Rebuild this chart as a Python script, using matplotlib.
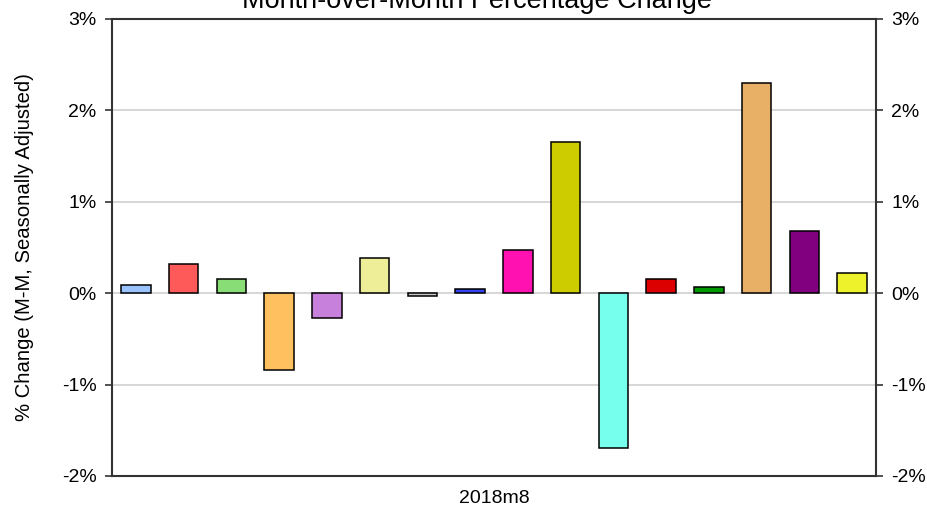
import matplotlib
matplotlib.use("Agg")
import matplotlib.pyplot as plt

plt.rcParams['font.family'] = ['Liberation Sans', 'DejaVu Sans']

title = "Month-over-Month Percentage Change"
ylabel = "% Change (M-M, Seasonally Adjusted)"
period_label = "2018m8"
values = [0.09, 0.32, 0.16, -0.84, -0.27, 0.39, -0.03, 0.05, 0.47, 1.65,
          -1.69, 0.15, 0.07, 2.30, 0.68, 0.22]
colors = ["#99C2FF", "#FF5A5A", "#88DD77", "#FFC060", "#C880DD", "#EEEE99",
          "#C8C8C8", "#3344EE", "#FF10B0", "#CCCC00", "#77FFEE", "#DD0000",
          "#009900", "#E8B066", "#800080", "#EEF22A"]
yticks = [-2, -1, 0, 1, 2, 3]
ytick_labels = ["-2%", "-1%", "0%", "1%", "2%", "3%"]

fig = plt.figure(figsize=(9.28, 5.08), dpi=100)
ax = fig.add_axes([112/928, 32/508, 764/928, 457/508])

n = len(values)
xs = list(range(n))
ax.set_xlim(-0.5, n - 0.5)
ax.set_ylim(-2, 3)

for v in [-1, 0, 1, 2]:
    ax.axhline(v, color="#D0D0D0", lw=1.2, zorder=0)

ax.bar(xs, values, width=0.62, color=colors, edgecolor="black", linewidth=1.1, zorder=2)

ax.set_yticks(yticks)
ax.set_yticklabels(ytick_labels)
ax.tick_params(axis='y', which='both', left=True, right=True, labelleft=True,
               labelright=True, direction='out', length=5, width=1.2,
               color="#333333", labelsize=14, pad=7)
ax.tick_params(axis='y', which='both', labelright=True, pad=6)
ax.set_xticks([(n - 1) / 2])
ax.set_xticklabels([period_label])
ax.tick_params(axis='x', length=0, labelsize=14, pad=10)

for sp in ax.spines.values():
    sp.set_color("#333333")
    sp.set_linewidth(1.5)

ax.set_ylabel(ylabel, fontsize=14.6, labelpad=20)
fig.text(477/928, 1 - 8/508, title, ha='center', va='baseline', fontsize=19.5)

fig.savefig("out.png", dpi=100)
